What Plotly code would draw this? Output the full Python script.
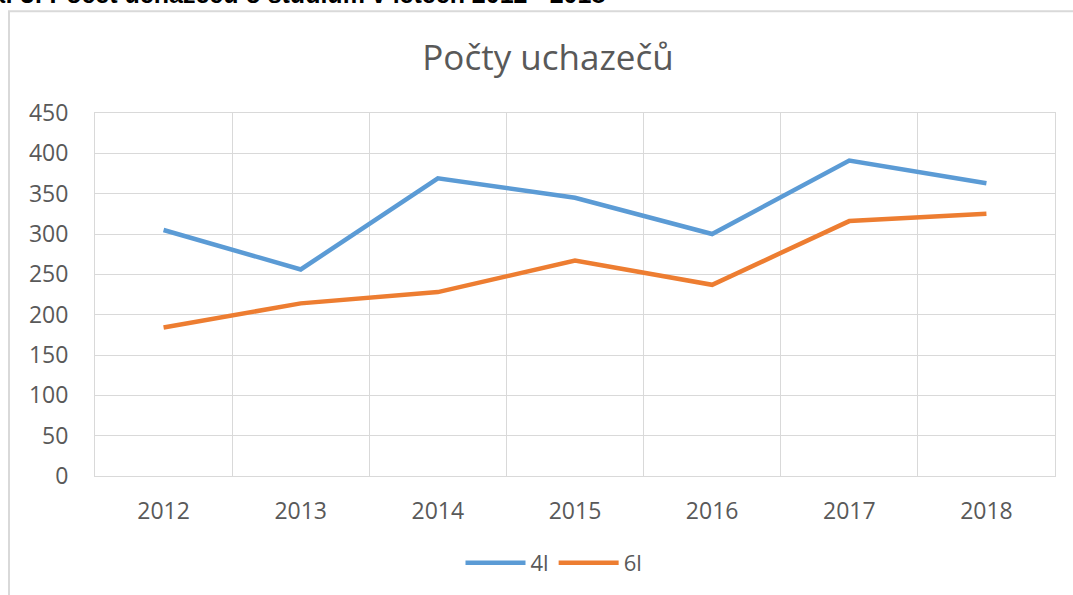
import plotly.graph_objects as go

years = ["2012", "2013", "2014", "2015", "2016", "2017", "2018"]
series_4l = [305, 256, 369, 345, 300, 391, 363]
series_6l = [184, 214, 228, 267, 237, 316, 325]
y_ticks = [0, 50, 100, 150, 200, 250, 300, 350, 400, 450]

W, H = 1073, 595
L, R, T, B = 95, 1055, 113, 477

def px_x(x):
    return (x - L) / (R - L)

def px_y(y):
    return (B - y) / (B - T)

fig = go.Figure()
fig.add_trace(go.Scatter(x=years, y=series_4l, name="4l", mode="lines",
                         line=dict(color="#5B9BD5", width=4.5)))
fig.add_trace(go.Scatter(x=years, y=series_6l, name="6l", mode="lines",
                         line=dict(color="#ED7D31", width=4.5)))

grid = "#d9d9d9"
fig.update_layout(
    width=W, height=H,
    margin=dict(l=L, r=W - R, t=T, b=H - B),
    paper_bgcolor="white", plot_bgcolor="white",
    font=dict(family="Open Sans", color="#595959", size=23),
    title=dict(text="Počty uchazečů", x=548 / W, xanchor="center",
               y=1 - 58 / H, yanchor="middle",
               font=dict(family="Open Sans", size=35, color="#595959")),
    showlegend=True,
    legend=dict(orientation="h", x=px_x(554), xanchor="center",
                y=px_y(563), yanchor="middle", itemwidth=60,
                font=dict(size=22, color="#595959")),
    xaxis=dict(type="category", tickson="boundaries", showgrid=True,
               gridcolor=grid, gridwidth=1, showline=True, mirror=True,
               linecolor=grid, linewidth=1, ticks="", ticklabelstandoff=14,
               range=[-0.5, 6.5], fixedrange=True),
    yaxis=dict(range=[0, 450], tickvals=y_ticks, showgrid=True,
               gridcolor=grid, gridwidth=1, showline=True, mirror=True,
               linecolor=grid, linewidth=1, zeroline=False, ticks="",
               ticklabelstandoff=21),
)

# outer chart border (partially visible)
fig.add_shape(type="rect", xref="paper", yref="paper",
              x0=px_x(9), x1=px_x(1085), y0=px_y(610), y1=px_y(11),
              line=dict(color="#d9d9d9", width=2), fillcolor="rgba(0,0,0,0)",
              layer="below")

# caption text above chart, cut off by the page top
fig.add_annotation(text="<b>Graf 3: Počet uchazečů o studium v letech 2012 - 2018</b>",
                   xref="paper", yref="paper", x=px_x(607), y=px_y(10),
                   xanchor="right", yanchor="bottom", showarrow=False,
                   font=dict(family="Liberation Sans", size=25, color="black"))

fig.write_html("out.html", config={"displayModeBar": False},
               post_script="document.body.style.margin='0';document.body.style.overflow='hidden';")
